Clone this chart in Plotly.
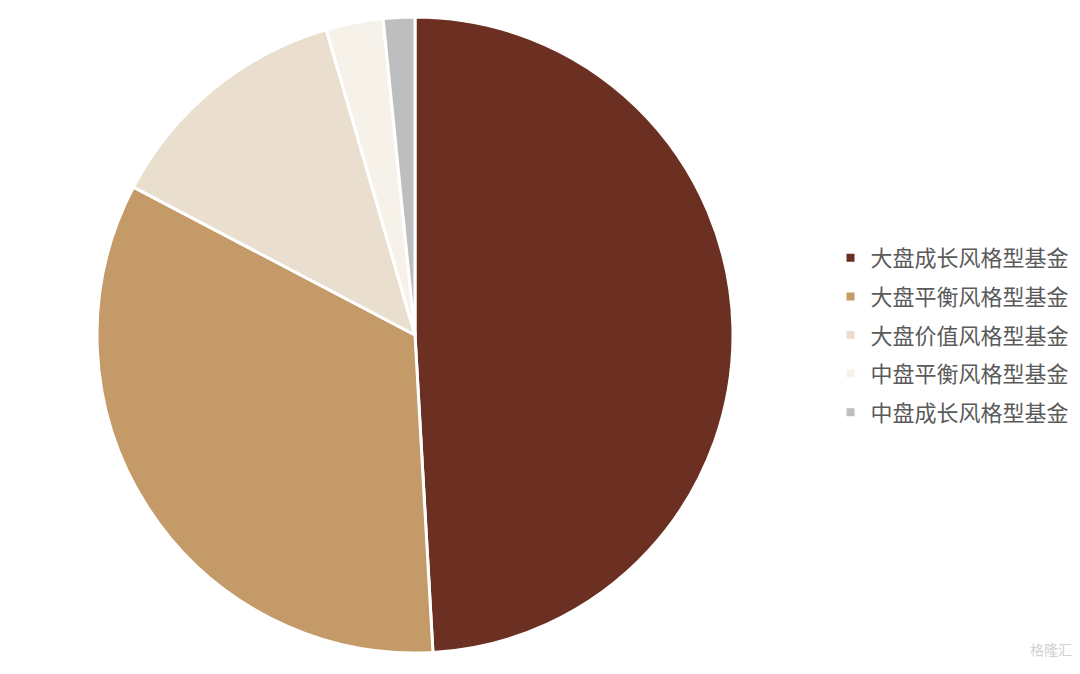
import plotly.graph_objects as go

labels = ["大盘成长风格型基金", "大盘平衡风格型基金", "大盘价值风格型基金", "中盘平衡风格型基金", "中盘成长风格型基金"]
values = [49.1, 33.6, 12.8, 2.9, 1.6]
colors = ["#6B3022", "#C49A68", "#EADFCF", "#F6F2EA", "#BDBEC0"]

W, H = 1080, 674
cx, cy, r = 415, 335, 318

fig = go.Figure()
fig.add_trace(go.Pie(
    labels=labels, values=values, sort=False, direction="clockwise", rotation=0,
    marker=dict(colors=colors, line=dict(color="white", width=3)),
    textinfo="none", hoverinfo="label+percent", showlegend=False,
    domain=dict(x=[(cx - r) / W, (cx + r) / W], y=[1 - (cy + r) / H, 1 - (cy - r) / H]),
))
# legend entries
for lab, col in zip(labels, colors):
    fig.add_trace(go.Scatter(
        x=[None], y=[None], mode="markers", name=lab, legendgroup=lab,
        marker=dict(symbol="square", size=8, color=col), hoverinfo="skip",
    ))

fig.update_layout(
    width=W, height=H, margin=dict(l=0, r=0, t=0, b=0),
    paper_bgcolor="white", plot_bgcolor="white",
    xaxis=dict(visible=False), yaxis=dict(visible=False),
    font=dict(family="Noto Sans CJK SC", color="#5A5A5A", size=22),
    legend=dict(x=0.769, y=0.503, xanchor="left", yanchor="middle",
                font=dict(size=22, color="#5A5A5A"), itemwidth=30,
                tracegroupgap=7),
    annotations=[dict(text="格隆汇", x=0.994, y=0.02, xref="paper", yref="paper",
                      xanchor="right", yanchor="bottom", showarrow=False,
                      font=dict(size=14, color="#D0D0D0"))],
)
fig.write_html("out.html", config={"displayModeBar": False},
               post_script="document.body.style.margin='0';")
